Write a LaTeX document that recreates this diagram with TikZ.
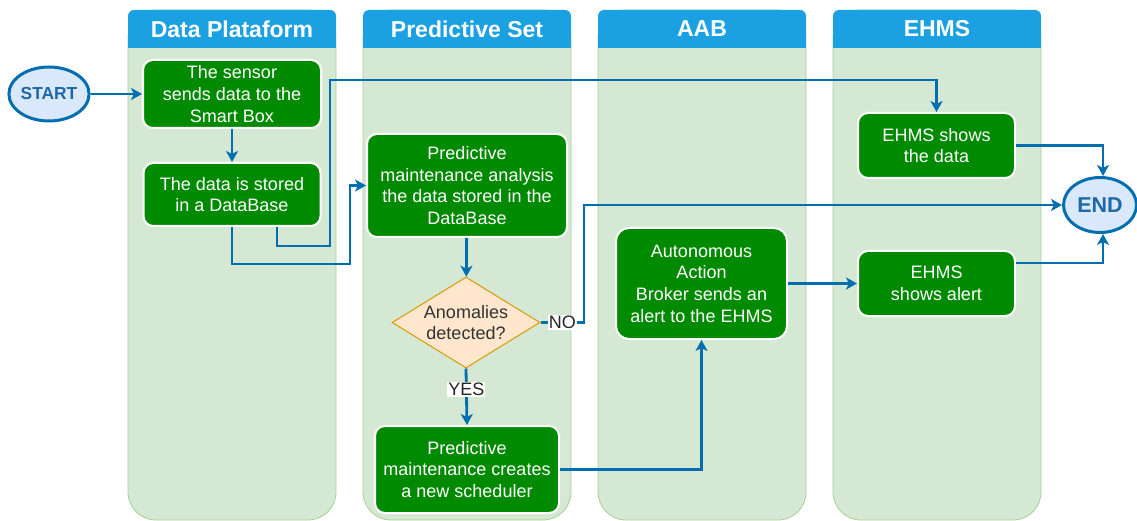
\documentclass[tikz,border=0pt]{standalone}
\usepackage{fontspec}
\setmainfont{Liberation Sans}
\usetikzlibrary{shapes.geometric,arrows.meta,calc}
\definecolor{lanefill}{HTML}{D5E8D4}
\definecolor{lanedraw}{HTML}{A9CF96}
\definecolor{headblue}{HTML}{1BA1E2}
\definecolor{stepgreen}{HTML}{008A00}
\definecolor{flowblue}{HTML}{006EAF}
\definecolor{termfill}{HTML}{DAE8FC}
\definecolor{termtext}{HTML}{1F68A6}
\definecolor{decfill}{HTML}{FFE6CC}
\definecolor{decdraw}{HTML}{D79B00}
\begin{document}
\begin{tikzpicture}[x=1pt,y=-1pt,
  stepbox/.style={draw=white, line width=2pt, fill=stepgreen, rounded corners=10pt,
    text=white, font=\fontsize{18pt}{21.6pt}\selectfont, align=center, inner sep=0pt},
  terminal/.style={ellipse, draw=flowblue, line width=3pt, fill=termfill, text=termtext,
    inner sep=0pt},
  decision/.style={diamond, draw=decdraw, line width=1pt, fill=decfill, text=black!80,
    font=\fontsize{18pt}{21.6pt}\selectfont, align=center, inner sep=-6pt, shape aspect=1.63},
  flow/.style={draw=flowblue, line width=2.8pt, -{Stealth[length=11pt,width=12pt,inset=3pt]}},
  flowlabel/.style={fill=white, text=black!85, inner sep=1pt, font=\fontsize{18pt}{21.6pt}\selectfont},
  lanetitle/.style={text=white, font=\fontsize{23pt}{27pt}\selectfont\bfseries}
]
\useasboundingbox (0,0) rectangle (1137,521);

% swimlanes
\foreach \xl/\title [count=\i] in {128/Data Plataform, 363/Predictive Set, 598/AAB, 833/EHMS}{
  \draw[lanedraw, fill=lanefill, line width=0.8pt, rounded corners=28pt]
    (\xl,10) rectangle ({\xl+208},520);
  \fill[headblue, rounded corners=6pt] (\xl,10) rectangle ({\xl+208},40);
  \fill[headblue] (\xl,30) rectangle ({\xl+208},48);
  \node[lanetitle] (lane\i) at ({\xl+104},29) {\title};
}

% terminals
\node[terminal, minimum width=80pt, minimum height=54pt,
  font=\fontsize{17.4pt}{20pt}\selectfont\bfseries] (start) at (49,94) {START};
\node[terminal, minimum width=73pt, minimum height=55pt,
  font=\fontsize{21.5pt}{24pt}\selectfont\bfseries] (end) at (1100,205) {END};

% process steps
\node[stepbox, minimum width=178pt, minimum height=68pt] (sense) at (232,94)
  {The sensor\\sends data to the\\Smart Box};
\node[stepbox, minimum width=177pt, minimum height=63pt] (store) at (232,194.5)
  {The data is stored\\in a DataBase};
\node[stepbox, minimum width=200pt, minimum height=103pt] (analysis) at (467,185.5)
  {Predictive\\maintenance analysis\\the data stored in the\\DataBase};
\node[decision, minimum width=148pt, minimum height=91pt] (anomaly) at (466,322.5)
  {Anomalies\\detected?};
\node[stepbox, minimum width=184pt, minimum height=87pt] (sched) at (467,469.5)
  {Predictive\\maintenance creates\\a new scheduler};
\node[stepbox, rounded corners=13pt, minimum width=171pt, minimum height=111pt] (broker) at (701.5,283.5)
  {Autonomous\\Action\\Broker sends an\\alert to the EHMS};
\node[stepbox, minimum width=157pt, minimum height=65pt] (showdata) at (936.5,145.5)
  {EHMS shows\\the data};
\node[stepbox, minimum width=157pt, minimum height=65pt] (alert) at (936.5,283.5)
  {EHMS\\shows alert};

% connectors
\draw[flow] (start) -- (sense);
\draw[flow] (sense) -- (store);
\draw[flow] ([xshift=45pt]store.south) -- ++(0,19) -| (330,80) -| (showdata.north);
\draw[flow] (store.south) -- ++(0,37) -| (350,225) |- (analysis.west);
\draw[flow] (analysis) -- (anomaly);
\draw[flow] (anomaly.south) -- node[flowlabel, pos=0.37] {YES} (sched.north);
\draw[flow] (anomaly.east) -- node[flowlabel] {NO} (584,322.5) |- (end.west);
\draw[flow] (sched.east) -| (broker.south);
\draw[flow] (broker.east) -- (alert.west);
\draw[flow] (showdata.east) -| ([xshift=3pt]end.north);
\draw[flow] ([yshift=20.5pt]alert.east) -| ([xshift=3pt]end.south);
\end{tikzpicture}
\end{document}
